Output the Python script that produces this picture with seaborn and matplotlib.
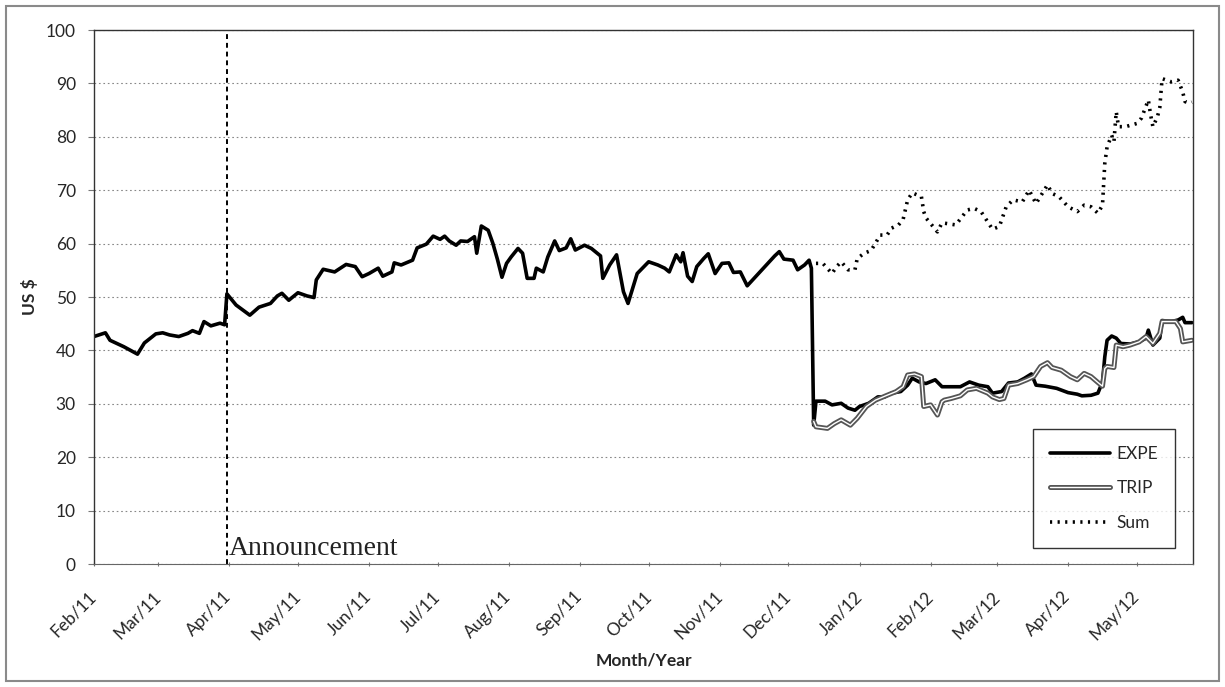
import pandas as pd
import matplotlib.pyplot as plt
import matplotlib.dates as mdates
import matplotlib.patheffects as pe
from matplotlib.patches import Rectangle
import seaborn as sns

# Daily closing prices, as days since 1 Feb 2011
start = pd.Timestamp("2011-02-01")

expe_day = [0, 5, 7, 13, 19, 22, 27, 30, 33, 37, 41, 43, 46, 48, 51, 55, 57, 58, 62, 68,
            72, 77, 80, 82, 85, 89, 93, 96, 97, 100, 105, 110, 114, 117, 120, 124, 126, 130, 131, 134,
            139, 141, 145, 148, 151, 153, 155, 158, 160, 163, 166, 167, 169, 172, 174, 176, 178, 180, 182, 185,
            187, 189, 192, 193, 196, 198, 201, 203, 206, 208, 210, 214, 217, 221, 222, 225, 228, 231, 233, 237,
            242, 246, 249, 251, 254, 256, 257, 259, 261, 263, 266, 268, 271, 274, 277, 279, 282, 285, 288, 294,
            297, 299, 301, 305, 307, 310, 312, 313, 314, 315, 319, 322, 326, 329, 332, 334, 338, 342, 345, 348,
            352, 355, 357, 360, 363, 367, 370, 378, 382, 386, 390, 392, 396, 399, 403, 406, 409, 411, 415, 420,
            425, 429, 431, 435, 438, 440, 441, 442, 444, 446, 448, 452, 456, 459, 460, 462, 465, 466, 470, 473,
            475, 476, 479]
expe_usd = [42.6, 43.3, 41.9, 40.7, 39.3, 41.4, 43.1, 43.3, 42.9, 42.6, 43.2, 43.7, 43.2, 45.4, 44.6, 45.1, 44.8, 50.6, 48.5, 46.6,
            48.1, 48.8, 50.2, 50.7, 49.4, 50.8, 50.2, 49.9, 53.2, 55.2, 54.7, 56.1, 55.7, 53.8, 54.4, 55.4, 53.9, 54.7, 56.4, 56.0,
            56.9, 59.2, 59.9, 61.4, 60.8, 61.4, 60.5, 59.7, 60.5, 60.4, 61.3, 58.2, 63.3, 62.5, 60.1, 57.1, 53.7, 56.3, 57.5, 59.1,
            58.2, 53.5, 53.5, 55.4, 54.7, 57.5, 60.5, 58.7, 59.2, 60.9, 58.8, 59.7, 59.1, 57.7, 53.5, 56.0, 57.9, 51.0, 48.8, 54.4,
            56.6, 56.0, 55.4, 54.7, 57.9, 56.6, 58.3, 53.9, 52.9, 55.7, 57.2, 58.1, 54.4, 56.3, 56.4, 54.6, 54.7, 52.1, 53.5, 56.3,
            57.7, 58.5, 57.1, 56.9, 55.1, 56.0, 56.9, 55.4, 26.0, 30.5, 30.5, 29.8, 30.1, 29.2, 28.8, 29.5, 30.1, 31.3, 31.3, 32.0,
            32.3, 33.5, 34.8, 34.1, 33.8, 34.5, 33.2, 33.2, 34.1, 33.5, 33.2, 32.0, 32.3, 33.9, 34.1, 34.8, 35.6, 33.5, 33.3, 32.9,
            32.1, 31.8, 31.5, 31.6, 32.0, 34.1, 38.8, 41.9, 42.7, 42.3, 41.3, 41.2, 41.6, 42.3, 43.8, 41.0, 42.3, 45.6, 45.4, 45.7,
            46.2, 45.2, 45.2]

trip_day = [314, 315, 320, 323, 326, 330, 333, 337, 341, 346, 350, 353, 355, 358, 361, 362, 365, 368, 370, 371,
            374, 378, 381, 385, 390, 392, 395, 397, 399, 403, 407, 410, 413, 416, 418, 422, 426, 429, 432, 435,
            438, 440, 441, 442, 445, 446, 449, 452, 456, 459, 462, 465, 466, 472, 474, 475, 479]
trip_usd = [26.7, 25.7, 25.4, 26.3, 27.0, 26.0, 27.3, 29.5, 30.7, 31.6, 32.3, 33.2, 35.4, 35.6, 35.1, 29.5, 29.8, 27.9, 30.4, 30.7,
            31.0, 31.5, 32.6, 32.9, 32.0, 31.3, 30.8, 31.0, 33.5, 33.8, 34.5, 35.1, 37.0, 37.7, 36.8, 36.3, 35.1, 34.5, 35.7, 35.1,
            34.0, 33.3, 36.6, 37.0, 36.8, 41.0, 40.7, 41.0, 41.6, 42.6, 41.3, 43.2, 45.4, 45.4, 44.1, 41.6, 41.9]

sum_day = [315, 318, 322, 324, 326, 329, 332, 333, 336, 339, 341, 343, 346, 348, 351, 353, 355, 357, 361, 362,
           363, 368, 370, 376, 381, 384, 387, 392, 395, 398, 401, 405, 408, 411, 416, 418, 421, 425, 429, 432,
           435, 438, 440, 441, 442, 444, 445, 446, 447, 450, 455, 457, 460, 461, 462, 464, 465, 466, 470, 473,
           475, 476, 478, 479]
sum_usd = [56.3, 56.3, 54.4, 55.7, 56.6, 55.1, 55.1, 57.2, 58.2, 58.7, 60.1, 61.6, 61.6, 62.9, 63.5, 64.5, 68.2, 69.5, 68.8, 66.0,
           64.8, 62.2, 63.9, 63.5, 66.3, 66.6, 66.0, 62.7, 63.2, 66.9, 68.2, 67.8, 70.0, 67.5, 71.0, 69.4, 68.8, 66.9, 66.0, 67.2,
           66.9, 65.7, 67.2, 75.0, 78.1, 80.3, 79.1, 84.7, 81.9, 81.9, 82.5, 83.5, 86.9, 84.1, 81.9, 83.8, 85.5, 90.9, 90.3, 90.6,
           88.4, 86.6, 86.3, 86.5]

announce_day = 58
end_day = 479.5


def to_frame(days, usd):
    return pd.DataFrame({"date": start + pd.to_timedelta(days, unit="D"), "usd": usd})


expe = to_frame(expe_day, expe_usd)
trip = to_frame(trip_day, trip_usd)
total = to_frame(sum_day, sum_usd)

sns.set_style("white")
plt.rcParams["font.family"] = ["Lato", "DejaVu Sans"]

fig = plt.figure(figsize=(12.25, 6.87), dpi=100)
ax = fig.add_axes([0.0767, 0.179, 0.8972, 0.7773])

sns.lineplot(data=expe, x="date", y="usd", ax=ax, color="black", lw=2.6, label="EXPE")
sns.lineplot(data=trip, x="date", y="usd", ax=ax, color="white", lw=1.0, label="TRIP",
             path_effects=[pe.Stroke(linewidth=3.6, foreground="#555555"), pe.Normal()])
sns.lineplot(data=total, x="date", y="usd", ax=ax, color="black", lw=2.6,
             linestyle=(0, (0.6, 1.5)), label="Sum")

# announcement marker
ann = start + pd.Timedelta(days=announce_day)
ax.axvline(ann, color="black", lw=1.4, ls=(0, (2.5, 2)), zorder=1)
ax.text(ann + pd.Timedelta(days=1), 0.6, "Announcement", family="Liberation Serif",
        fontsize=20, color="#222222", ha="left", va="bottom")

ax.set_ylim(0, 100)
ax.set_yticks(range(0, 101, 10))
ax.set_xlim(start, start + pd.Timedelta(days=end_day))
ax.xaxis.set_major_locator(mdates.MonthLocator())
ax.xaxis.set_major_formatter(mdates.DateFormatter("%b/%y"))
ax.yaxis.grid(True, color="#888888", ls=(0, (1.5, 2.5)), lw=0.8)
ax.xaxis.grid(False)

for side in ["left", "top", "right"]:
    ax.spines[side].set_color("#333333")
    ax.spines[side].set_linewidth(1.0)
ax.spines["bottom"].set_color("#666666")
ax.spines["bottom"].set_linestyle((0, (1, 1)))

ax.tick_params(axis="y", length=4, color="#777777", pad=9, labelsize=12.5, left=True)
ax.tick_params(axis="x", length=3, color="#777777", direction="inout", pad=20, labelsize=12.5, bottom=True)
for lab in ax.get_xticklabels():
    lab.set_rotation(45)
    lab.set_ha("right")
    lab.set_va("center")
    lab.set_rotation_mode("anchor")

ax.set_xlabel("Month/Year", fontsize=12.5, fontweight="bold", labelpad=7)
ax.set_ylabel("US $", fontsize=12.5, fontweight="bold", labelpad=6)

leg = ax.legend(loc="lower right", bbox_to_anchor=(0.984, 0.03), borderaxespad=0,
                fontsize=12.5, handlelength=3.4, labelspacing=1.05, handletextpad=0.4,
                borderpad=1.0, fancybox=False, frameon=True)
leg.get_frame().set_edgecolor("black")
leg.get_frame().set_linewidth(1.0)

# chart area border
fig.patches.append(Rectangle((0.005, 0.009), 0.99, 0.982, transform=fig.transFigure,
                             fill=False, edgecolor="#8a8a8a", lw=1.5))

fig.savefig("out.png", dpi=100)
